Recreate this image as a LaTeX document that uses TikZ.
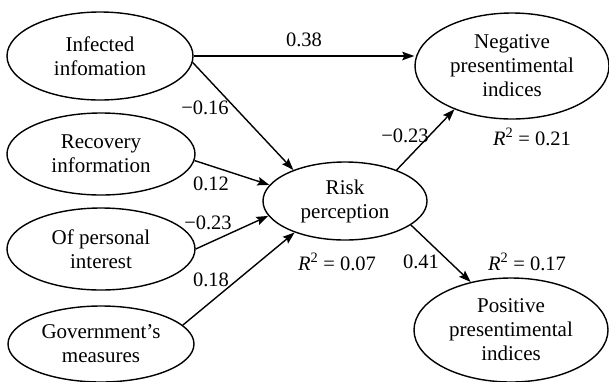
\documentclass[tikz,border=0pt]{standalone}
\usepackage{fontspec}
\setmainfont{Liberation Serif}
\usetikzlibrary{shapes.geometric,arrows.meta}
\begin{document}
\begin{tikzpicture}[x=1pt,y=-1pt,
  ell/.style={draw,ellipse,line width=1.4pt,inner sep=0pt,align=center,
    font=\fontsize{21}{24}\selectfont},
  conn/.style={line width=1.4pt,-{Stealth[length=12pt,width=8.5pt,inset=2pt]}},
  lab/.style={inner sep=0pt,font=\fontsize{20.5}{24}\selectfont}]
\useasboundingbox (0,0) rectangle (609,381);
\node[ell,minimum width=186pt,minimum height=88pt] (inf) at (100,56) {Infected\\infomation};
\node[ell,minimum width=188pt,minimum height=82pt] (rec) at (101,154) {Recovery\\information};
\node[ell,minimum width=188pt,minimum height=82pt] (per) at (101,249) {Of personal\\interest};
\node[ell,minimum width=186pt,minimum height=76pt] (gov) at (101,344) {Government's\\measures};
\node[ell,minimum width=164pt,minimum height=78pt] (risk) at (345,201) {Risk\\perception};
\node[ell,minimum width=194pt,minimum height=106pt] (neg) at (512,66) {Negative\\presentimental\\indices};
\node[ell,minimum width=194pt,minimum height=104pt] (pos) at (511,330) {Positive\\presentimental\\indices};
\draw[conn] (inf.east) -- (inf.east -| neg.west);
\draw[conn] (inf.-4) -- (risk.149);
\draw[conn] (rec.-4) -- (risk.168);
\draw[conn] (per.east) -- (risk.191);
\draw[conn] (gov.13) -- (risk.212);
\draw[conn] (risk.31) -- (neg.217);
\draw[conn] (risk.-20) -- (pos.130);
\node[lab] (l1) at (304,40) {0.38};
\node[lab] (l2) at (205,108) {−0.16};
\node[lab] (l3) at (211,184) {0.12};
\node[lab] (l4) at (208,223) {−0.23};
\node[lab] (l5) at (211,280) {0.18};
\node[lab] (l6) at (405,136) {−0.23};
\node[lab] (l7) at (421,262) {0.41};
\node[lab] (r1) at (337,262) {\textit{R}\textsuperscript{2} = 0.07};
\node[lab] (r2) at (532,137) {\textit{R}\textsuperscript{2} = 0.21};
\node[lab] (r3) at (527,262) {\textit{R}\textsuperscript{2} = 0.17};
\end{tikzpicture}
\end{document}
